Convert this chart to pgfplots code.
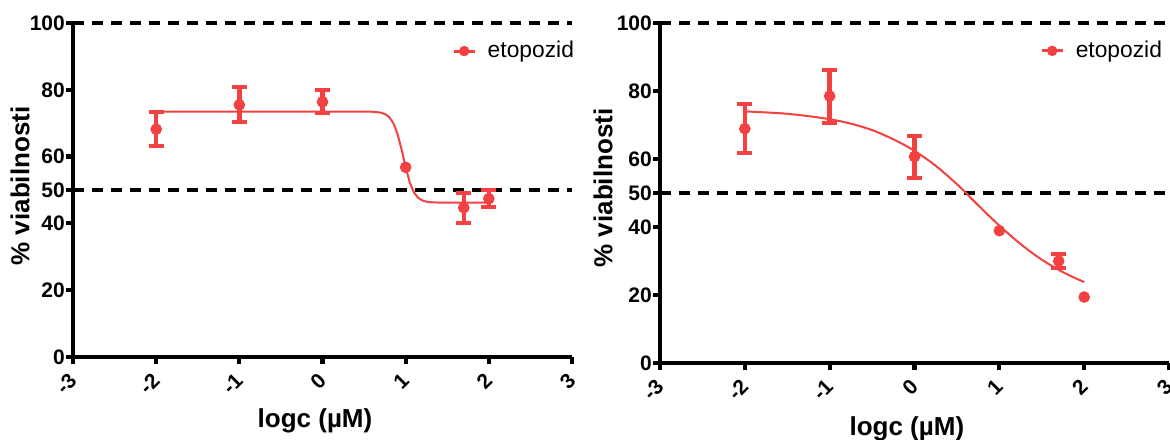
\documentclass[border=0pt]{standalone}
\usepackage{fontspec}
\setmainfont{Liberation Sans}
\usepackage{pgfplots}
\usepackage{pgfplotstable}
\pgfplotsset{compat=1.18}

\definecolor{etop}{RGB}{243,64,64}

% mean viability with SEM, left panel
\pgfplotstableread{
x      y     err
-2     68.2  5.1
-1     75.5  5.2
0      76.4  3.4
1.699  44.7  4.55
2      47.4  2.6
}\leftbars
% right panel
\pgfplotstableread{
x      y     err
-2     68.9  7.2
-1     78.5  7.8
0      60.7  6.2
1.699  30.0  2.05
}\rightbars

\pgfplotsset{
  viab/.style={
    scale only axis,
    clip=false,
    axis x line*=bottom,
    axis y line*=left,
    xmin=-3, xmax=3, ymin=0, ymax=100,
    xtick={-3,-2,-1,0,1,2,3},
    xticklabels={-3,-2,-1,0,1,2,3},
    ytick={0,20,40,50,60,80,100},
    yticklabels={0,20,40,50,60,80,100},
    axis line style={line width=2.1pt, -},
    every tick/.style={line width=2.1pt, black},
    major tick length=3.3pt,
    tick align=outside,
    tick label style={font=\bfseries\fontsize{10.5}{12}\selectfont},
    xticklabel style={rotate=45, anchor=east, inner sep=0pt},
    xticklabel shift=6.5pt,
    yticklabel style={inner sep=0.6pt},
    label style={font=\bfseries\fontsize{13}{15}\selectfont},
    ylabel={\% viabilnosti},
    xlabel={logc (µM)},
    legend image code/.code={
      \draw[etop, line width=1.5pt] (0pt,0pt) -- (10.5pt,0pt);
      \fill[etop] (5pt,0pt) circle (2.4pt);
    },
  },
  refline/.style={black, line width=2pt, dash pattern=on 5.5pt off 4pt, forget plot},
  fitline/.style={etop, line width=1pt, forget plot},
  sem/.style={etop, only marks, mark=*, mark size=2.7pt,
    mark options={fill=etop, draw=etop},
    error bars/.cd, y dir=both, y explicit,
    error mark=-,
    error bar style={line width=2.3pt, etop},
    error mark options={rotate=90, line width=2pt, mark size=3.75pt, etop}},
  single/.style={etop, only marks, mark=*, mark size=2.7pt,
    mark options={fill=etop, draw=etop}, forget plot},
}

\begin{document}
\begin{tikzpicture}
\useasboundingbox (0,0) rectangle (585pt,219.5pt);
\clip (0,0) rectangle (585pt,219.5pt);

\begin{axis}[viab,
  at={(36.5pt,41pt)}, anchor=south west,
  width=249.5pt, height=167pt,
  ylabel style={at={(axis description cs:-0.106,0.512)}, anchor=center},
  xlabel style={at={(axis description cs:0.485,-0.192)}, anchor=center},
  legend style={at={(axis description cs:0.761,0.916)}, anchor=west,
    draw=none, fill=none, inner sep=0pt, outer sep=0pt,
    /tikz/column sep=5.5pt, font=\fontsize{11.4}{13}\selectfont,
    nodes={inner sep=0pt, outer sep=0pt}},
]
\addplot[refline] coordinates {(-3,100) (3,100)};
\addplot[refline] coordinates {(-3,50) (3,50)};
\addplot[fitline] coordinates {
  (-2,73.5) (-1,73.5) (0,73.5) (0.5,73.5) (0.55,73.48) (0.6,73.43)
  (0.65,73.33) (0.7,73.16) (0.75,72.75) (0.8,71.88) (0.85,70.11)
  (0.9,66.95) (0.95,62.17) (1.0,56.77) (1.05,52.2) (1.1,49.26)
  (1.15,47.65) (1.2,46.87) (1.25,46.5) (1.3,46.34) (1.4,46.23)
  (1.5,46.2) (2,46.2)};
\addplot[sem] table[x=x, y=y, y error=err] {\leftbars};
\addlegendentry{etopozid}
\addplot[single] coordinates {(1,56.8)};
\end{axis}

\begin{axis}[viab,
  at={(330pt,38pt)}, anchor=south west,
  width=254.5pt, height=170pt,
  ylabel style={at={(axis description cs:-0.112,0.515)}, anchor=center},
  xlabel style={at={(axis description cs:0.485,-0.193)}, anchor=center},
  legend style={at={(axis description cs:0.748,0.918)}, anchor=west,
    draw=none, fill=none, inner sep=0pt, outer sep=0pt,
    /tikz/column sep=5.5pt, font=\fontsize{11.4}{13}\selectfont,
    nodes={inner sep=0pt, outer sep=0pt}},
]
\addplot[refline] coordinates {(-3,100) (3,100)};
\addplot[refline] coordinates {(-3,50) (3,50)};
\addplot[fitline, smooth] coordinates {
  (-2,74.0) (-1.75,73.7) (-1.5,73.3) (-1.25,72.6) (-1,71.7)
  (-0.75,70.4) (-0.5,68.5) (-0.25,65.8) (0,62.4) (0.25,58.0)
  (0.5,52.6) (0.75,46.4) (1,40.4) (1.25,35.0) (1.5,30.4)
  (1.75,26.7) (2,23.8)};
\addplot[sem] table[x=x, y=y, y error=err] {\rightbars};
\addlegendentry{etopozid}
\addplot[single] coordinates {(1,38.9) (2,19.4)};
\end{axis}
\end{tikzpicture}
\end{document}
